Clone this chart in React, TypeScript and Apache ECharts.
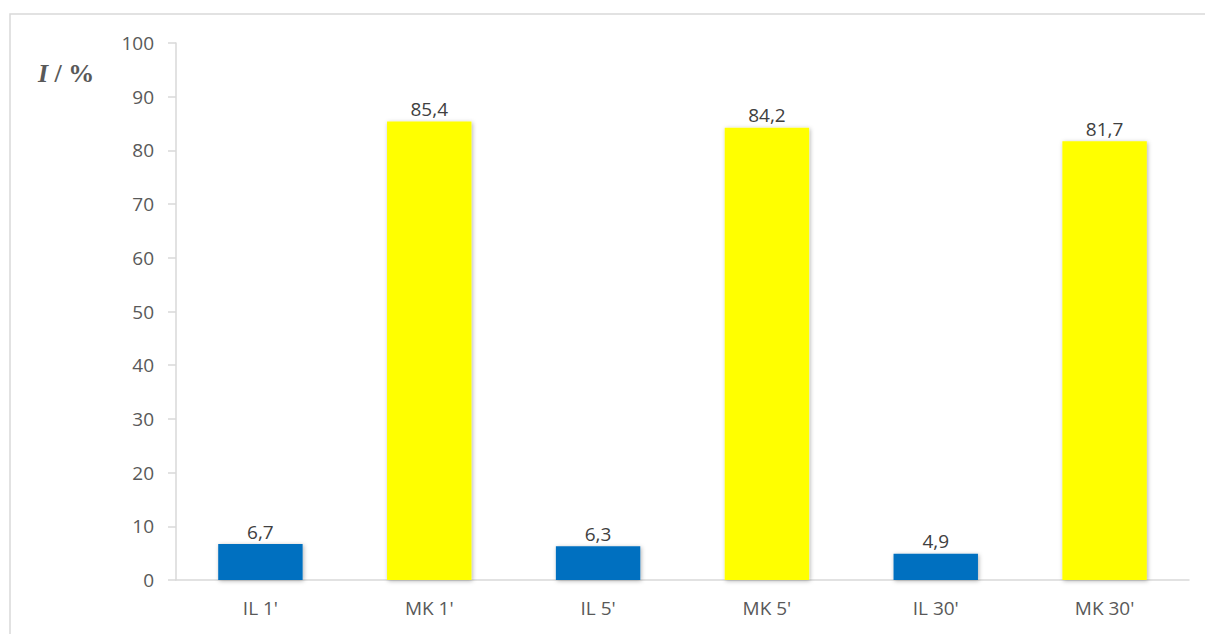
import React, { useEffect, useRef } from "react";
import * as echarts from "echarts";

const categories = ["IL 1'", "MK 1'", "IL 5'", "MK 5'", "IL 30'", "MK 30'"];
const values = [6.7, 85.4, 6.3, 84.2, 4.9, 81.7];
const barColors = ["#0070C0", "#FFFF00", "#0070C0", "#FFFF00", "#0070C0", "#FFFF00"];

export default function App() {
  const ref = useRef<HTMLDivElement>(null);
  useEffect(() => {
    const chart = echarts.init(ref.current!, null, { renderer: "svg" });
    const font = "Open Sans, Noto Sans, sans-serif";
    chart.setOption({
      animation: false,
      backgroundColor: "#fff",
      graphic: [
        {
          type: "rect",
          shape: { x: 10, y: 14, width: 1210, height: 640 },
          style: { fill: "none", stroke: "#D9D9D9", lineWidth: 1.5 },
          silent: true,
        },
        {
          type: "text",
          left: 38,
          top: 60,
          style: {
            text: "{i|I}{n|\u00a0/\u00a0%}",
            rich: {
              i: { fontFamily: "Liberation Serif, serif", fontStyle: "italic", fontWeight: "bold", fontSize: 26, fill: "#595959" },
              n: { fontFamily: "Liberation Serif, serif", fontWeight: "bold", fontSize: 26, fill: "#595959" },
            },
          },
        },
      ],
      grid: { left: 176, right: 16, top: 43, bottom: 54, containLabel: false },
      xAxis: {
        type: "category",
        data: categories,
        axisLine: { lineStyle: { color: "#D9D9D9", width: 1.5 } },
        axisTick: { show: false },
        axisLabel: { color: "#595959", fontSize: 19, fontFamily: font, margin: 18 },
      },
      yAxis: {
        type: "value",
        min: 0,
        max: 100,
        interval: 10,
        axisLine: { show: true, lineStyle: { color: "#D9D9D9", width: 1.5 } },
        axisTick: { show: true, length: 8, lineStyle: { color: "#D9D9D9", width: 1.5 } },
        splitLine: { show: false },
        axisLabel: { color: "#595959", fontSize: 19, fontFamily: font, margin: 22 },
      },
      series: [
        {
          type: "bar",
          data: values.map((v, i) => ({ value: v, itemStyle: { color: barColors[i] } })),
          barWidth: "50%",
          itemStyle: { shadowBlur: 4, shadowColor: "rgba(0,0,0,0.3)", shadowOffsetX: 1, shadowOffsetY: 1 },
          label: {
            show: true,
            position: "top",
            distance: 3,
            color: "#404040",
            fontSize: 19,
            fontFamily: font,
            formatter: (p: any) => String(p.value).replace(".", ","),
          },
        },
      ],
    });
    return () => chart.dispose();
  }, []);
  return <div ref={ref} style={{ width: 1205, height: 634, position: "absolute", left: 0, top: 0 }} />;
}
